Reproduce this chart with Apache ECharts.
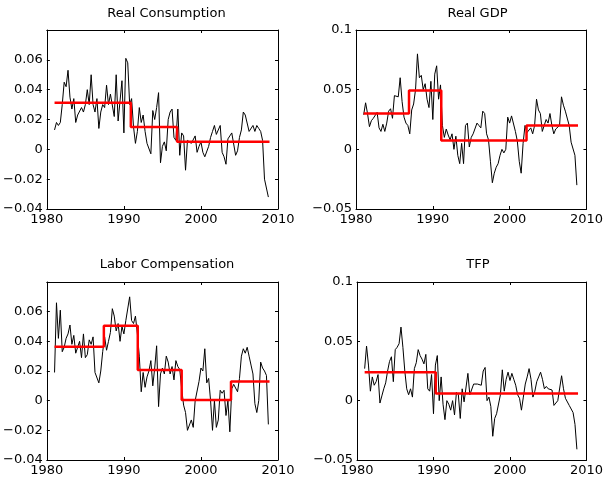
<!DOCTYPE html>
<html>
<head>
<meta charset="utf-8">
<script src="https://cdn.jsdelivr.net/npm/echarts@6/dist/echarts.min.js"></script>
<style>
  html, body { margin: 0; padding: 0; background: #fff; }
  #chart { width: 606px; height: 479px; }
</style>
</head>
<body>
<div id="chart"></div>
<script>
// quarterly growth rates, 1981Q1 .. 2008Q4
const startYear = 1981;
const titles = ["Real Consumption", "Real GDP", "Labor Compensation", "TFP"];

const consumption = [
  0.013, 0.018, 0.016, 0.018, 0.03, 0.045, 0.042, 0.053, 0.035, 0.027, 0.034, 0.018,
  0.023, 0.024, 0.028, 0.025, 0.03, 0.04, 0.03, 0.05, 0.03, 0.025, 0.034, 0.014,
  0.025, 0.03, 0.028, 0.043, 0.03, 0.037, 0.038, 0.022, 0.05, 0.019, 0.019, 0.046,
  0.011, 0.061, 0.058, 0.03, 0.034, 0.015, 0.004, 0.012, 0.028, 0.018, 0.023, 0.012,
  0.004, 0.004, -0.003, 0.026, 0.02, 0.028, 0.038, -0.009, 0.002, 0.005, -0.001, 0.02,
  0.025, 0.027, 0.008, 0.006, 0.027, -0.004, 0.011, 0.009, -0.014, 0.006, 0.006, 0.004,
  0.005, 0.009, -0.002, 0.002, 0.005, -0.002, -0.005, -0.004, 0.002, 0.008, 0.012, 0.016,
  0.01, 0.009, 0.016, -0.002, -0.005, -0.01, 0.007, 0.009, 0.011, 0.011, -0.004, -0.001,
  0.008, 0.013, 0.025, 0.023, 0.022, 0.012, 0.013, 0.016, 0.012, 0.016, 0.014, 0.012,
  0.006, -0.02, -0.021, -0.032
];
const gdp = [
  0.029, 0.039, 0.03, 0.019, 0.024, 0.026, 0.027, 0.031, 0.018, 0.015, 0.021, 0.015,
  0.022, 0.032, 0.034, 0.026, 0.045, 0.045, 0.044, 0.06, 0.04, 0.027, 0.022, 0.02,
  0.013, 0.033, 0.038, 0.05, 0.08, 0.06, 0.062, 0.05, 0.055, 0.042, 0.035, 0.057,
  0.025, 0.063, 0.07, 0.042, 0.054, 0.02, 0.01, 0.017, 0.012, 0.008, 0.013, 0.0,
  0.011, -0.005, -0.012, 0.005, -0.012, 0.02, 0.022, 0.002, 0.01, 0.013, 0.014, 0.022,
  0.02, 0.018, 0.032, 0.03, 0.013, 0.008, -0.01, -0.028, -0.02, -0.015, -0.012, -0.005,
  0.0, -0.003, 0.0, 0.027, 0.022, 0.028, 0.028, 0.015, 0.007, -0.01, -0.02, 0.005,
  0.02, 0.014, 0.015, 0.018, 0.013, 0.02, 0.042, 0.033, 0.03, 0.015, 0.014, 0.025,
  0.022, 0.03, 0.02, 0.013, 0.017, 0.016, 0.02, 0.044, 0.037, 0.032, 0.032, 0.02,
  0.006, 0.005, -0.005, -0.03
];
const labor = [
  0.019, 0.066, 0.042, 0.061, 0.033, 0.036, 0.042, 0.045, 0.051, 0.038, 0.044, 0.032,
  0.033, 0.04, 0.029, 0.045, 0.029, 0.031, 0.041, 0.038, 0.043, 0.019, 0.018, 0.012,
  0.02, 0.033, 0.043, 0.034, 0.04, 0.046, 0.062, 0.057, 0.047, 0.052, 0.04, 0.05,
  0.045, 0.054, 0.054, 0.07, 0.054, 0.052, 0.057, 0.045, 0.03, 0.006, 0.019, 0.009,
  0.016, 0.02, 0.027, 0.01, 0.022, 0.037, -0.004, 0.018, 0.022, 0.018, 0.03, 0.026,
  0.018, 0.023, 0.014, 0.027, 0.023, 0.021, 0.008, -0.003, -0.008, -0.02, -0.02, -0.013,
  -0.018, 0.0, 0.0, 0.013, 0.022, 0.02, 0.035, 0.012, 0.015, 0.0, -0.02, 0.0,
  -0.018, -0.013, 0.007, 0.005, 0.007, -0.01, 0.0, -0.021, 0.008, 0.011, 0.01, 0.006,
  0.015, 0.03, 0.035, 0.032, 0.036, 0.03, 0.024, 0.018, -0.002, -0.008, 0.0, 0.026,
  0.022, 0.02, 0.017, -0.016
];
const tfp = [
  0.027, 0.046, 0.03, 0.008, 0.02, 0.013, 0.016, 0.022, -0.002, 0.004, 0.01, 0.015,
  0.025, 0.033, 0.037, 0.016, 0.043, 0.045, 0.048, 0.062, 0.045, 0.025, 0.01, 0.005,
  0.01, 0.003, 0.027, 0.032, 0.043, 0.038, 0.035, 0.031, 0.039, 0.01, 0.008, 0.022,
  -0.011, 0.03, 0.038, 0.0, 0.02, -0.003, -0.016, 0.0, -0.003, -0.008, 0.0, -0.012,
  0.007, 0.005, -0.015, 0.01, -0.001, 0.0, 0.023, 0.005, 0.006, 0.014, 0.013, 0.014,
  0.015, 0.013, 0.025, 0.028, 0.0, 0.003, -0.005, -0.03, -0.015, -0.011, -0.012, 0.005,
  0.026, 0.008, 0.018, 0.024, 0.017, 0.023, 0.018, 0.013, 0.005, 0.002, -0.008, 0.003,
  0.014, 0.02, 0.027, 0.018, 0.003, 0.008, 0.016, 0.02, 0.024, 0.018, 0.01, 0.012,
  0.01, 0.011, 0.009, -0.004, -0.002, 0.0, 0.001, 0.021, 0.01, 0.002, 0.003, -0.004,
  -0.004, -0.01, -0.02, -0.041
];

// regime means (red step lines): break dates and level in each regime
const consBreaks = [1981, 1990.9, 1996.9, 2008.9];
const consLevels = [0.0313, 0.0149, 0.0051];
const gdpBreaks = [1981, 1986.9, 1991.1, 2002.2, 2008.9];
const gdpLevels = [0.03, 0.0494, 0.0075, 0.02];
const laborBreaks = [1981, 1987.4, 1991.8, 1997.5, 2003.9, 2008.9];
const laborLevels = [0.0364, 0.0505, 0.0206, 0.0004, 0.013];
const tfpBreaks = [1981, 1990.3, 2008.9];
const tfpLevels = [0.024, 0.0061];

const xTicks = { min: 1980, max: 2010, interval: 10 };
const yRanges = [
  { min: -0.04, max: 0.08, interval: 0.02, maxLabel: 0.06 },
  { min: -0.05, max: 0.1, interval: 0.05, maxLabel: 0.1 },
  { min: -0.04, max: 0.08, interval: 0.02, maxLabel: 0.06 },
  { min: -0.05, max: 0.1, interval: 0.05, maxLabel: 0.1 }
];

const grids = [
  { left: 45, right: 328, top: 30, bottom: 270 },
  { left: 356, right: 17, top: 30, bottom: 270 },
  { left: 46, right: 328, top: 282, bottom: 19 },
  { left: 357, right: 17, top: 282, bottom: 19 }
];

const font = "DejaVu Sans";

const toPoints = (vals) => vals.map((v, i) => [startYear + i * 0.25, v]);
const toSteps = (breaks, levels) => {
  const out = [];
  levels.forEach((l, k) => {
    out.push([breaks[k], l]);
    out.push([breaks[k + 1], l]);
  });
  return out;
};

const seriesVals = [consumption, gdp, labor, tfp];
const steps = [
  toSteps(consBreaks, consLevels),
  toSteps(gdpBreaks, gdpLevels),
  toSteps(laborBreaks, laborLevels),
  toSteps(tfpBreaks, tfpLevels)
];

const fmtY = (maxLabel) => (v) => {
  const r = Math.round(v * 100) / 100;
  if (r > maxLabel + 1e-9) return "";
  return String(r).replace("-", "\u2212");
};

const xAxis = [];
const yAxis = [];
const series = [];
const title = [];

grids.forEach((g, i) => {
  const axLine = { show: true, onZero: false, lineStyle: { color: "#000", width: 1 } };
  const tick = { show: true, inside: true, length: 3, lineStyle: { color: "#000" } };
  xAxis.push({
    gridIndex: i, type: "value", position: "bottom",
    min: xTicks.min, max: xTicks.max, interval: xTicks.interval,
    axisLine: axLine, axisTick: tick, splitLine: { show: false },
    axisLabel: { color: "#000", fontFamily: font, fontSize: 13, margin: 4,
      formatter: (v) => String(v), showMinLabel: true, showMaxLabel: true }
  });
  xAxis.push({
    gridIndex: i, type: "value", position: "top",
    min: xTicks.min, max: xTicks.max, interval: xTicks.interval,
    axisLine: axLine, axisTick: tick, splitLine: { show: false },
    axisLabel: { show: false }
  });
  const yr = yRanges[i];
  yAxis.push({
    gridIndex: i, type: "value", position: "left",
    min: yr.min, max: yr.max, interval: yr.interval,
    axisLine: axLine, axisTick: tick, splitLine: { show: false },
    axisLabel: { color: "#000", fontFamily: font, fontSize: 13, margin: 4,
      formatter: fmtY(yr.maxLabel), showMinLabel: true, showMaxLabel: true }
  });
  yAxis.push({
    gridIndex: i, type: "value", position: "right",
    min: yr.min, max: yr.max, interval: yr.interval,
    axisLine: axLine, axisTick: tick, splitLine: { show: false },
    axisLabel: { show: false }
  });
  series.push({
    type: "line", xAxisIndex: 2 * i, yAxisIndex: 2 * i,
    data: toPoints(seriesVals[i]), showSymbol: false, symbol: "none",
    lineStyle: { color: "#000", width: 1 }, silent: true, z: 2
  });
  series.push({
    type: "line", xAxisIndex: 2 * i, yAxisIndex: 2 * i,
    data: steps[i], showSymbol: false, symbol: "none",
    lineStyle: { color: "#ff0000", width: 2.5 }, silent: true, z: 3
  });
  title.push({
    text: titles[i],
    left: (g.left + (606 - g.right)) / 2,
    top: i < 2 ? 2 : 253,
    textAlign: "center",
    textStyle: { color: "#000", fontFamily: font, fontSize: 13, fontWeight: "normal" }
  });
});

const myChart = echarts.init(document.getElementById("chart"), null, { renderer: "canvas" });
myChart.setOption({
  animation: false,
  backgroundColor: "#fff",
  title: title,
  grid: grids,
  xAxis: xAxis,
  yAxis: yAxis,
  series: series
});
</script>
</body>
</html>
